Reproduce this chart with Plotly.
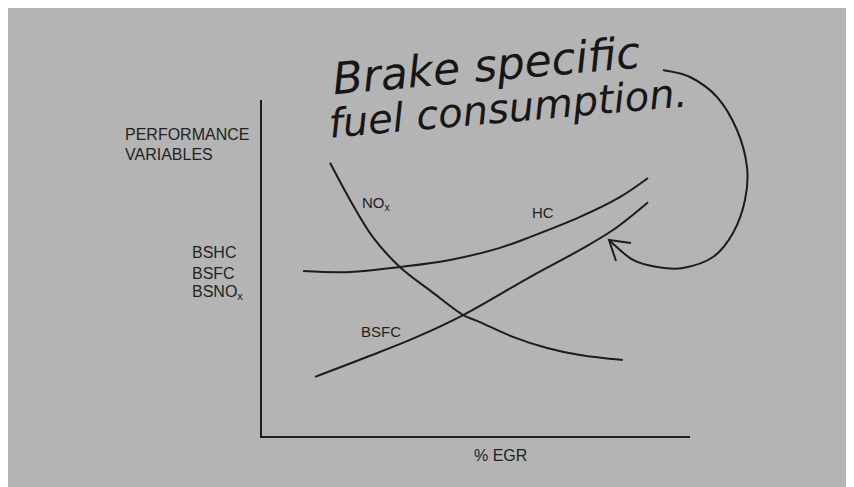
import plotly.graph_objects as go

# ---- data (arbitrary 0-100 units) ----
egr_nox = [15.9, 20.6, 25.9, 32.2, 40.0, 47.0, 50.9, 58.6, 66.6, 74.3, 84.3]
nox = [81.3, 70.2, 59.2, 50.3, 42.6, 36.0, 33.9, 29.5, 26.2, 24.1, 22.6]
egr_hc = [9.6, 20.6, 32.2, 43.9, 55.6, 62.6, 74.3, 83.6, 90.2]
hc = [49.1, 48.8, 50.3, 52.4, 56.0, 59.2, 65.2, 71.1, 76.8]
egr_bsfc = [12.4, 24.5, 36.2, 47.0, 62.6, 74.3, 82.0, 90.2]
bsfc = [17.6, 23.5, 29.5, 36.0, 47.3, 55.4, 61.3, 69.6]

curve_labels = ["NO<sub>x</sub>", "HC", "BSFC"]
y_title_lines = ["PERFORMANCE", "VARIABLES"]
y_vars = ["BSHC", "BSFC", "BSNO<sub>x</sub>"]
x_title = "% EGR"
note_lines = ["Brake specific", "fuel consumption."]

# ---- layout geometry (page pixels; the page adds an 8px body margin) ----
W, H = 854, 487
OFF = 8
L_PAGE, T_PAGE = 262, 100          # plot-area top-left on the page
PW, PH = 428, 336                  # plot-area size
L, T = L_PAGE - OFF, T_PAGE - OFF
R, B = W - L - PW, H - T - PH

def px2paper(px, py):
    return (px - L_PAGE) / PW, 1 - (py - T_PAGE) / PH

INK = "#1c1c1c"
BG = "#b4b4b4"

fig = go.Figure()
for xs, ys in [(egr_nox, nox), (egr_hc, hc), (egr_bsfc, bsfc)]:
    fig.add_trace(go.Scatter(x=xs, y=ys, mode="lines",
                             line=dict(color=INK, width=2, shape="spline", smoothing=1.0),
                             hoverinfo="skip", showlegend=False))

annotations = []
lab_font = dict(family="Liberation Sans, Arial, sans-serif", size=15, color="#222")
# curve labels (data coords)
for text, (x, y) in zip(curve_labels, [(26.8, 69.3), (65.7, 66.4), (27.8, 31.0)]):
    annotations.append(dict(x=x, y=y, xref="x", yref="y", text=text, showarrow=False,
                            font=lab_font, xanchor="center", yanchor="middle"))

# y-axis title lines
for text, py in zip(y_title_lines, [135, 154]):
    xp, yp = px2paper(123, py)
    annotations.append(dict(x=xp, y=yp, xref="paper", yref="paper", text=text,
                            showarrow=False, font=dict(lab_font, size=16),
                            xanchor="left", yanchor="middle"))
for text, py in zip(y_vars, [253, 273, 292]):
    xp, yp = px2paper(190, py)
    annotations.append(dict(x=xp, y=yp, xref="paper", yref="paper", text=text,
                            showarrow=False, font=dict(lab_font, size=16),
                            xanchor="left", yanchor="middle"))
xp, yp = px2paper(500, 455)
annotations.append(dict(x=xp, y=yp, xref="paper", yref="paper", text=x_title,
                        showarrow=False, font=dict(lab_font, size=16),
                        xanchor="center", yanchor="middle"))

# handwritten note
hand_font = dict(family="DejaVu Sans, sans-serif", color="#161616", style="italic")
for text, (cx, cy), size in zip(note_lines, [(486, 66), (508, 108)], [44, 40]):
    xp, yp = px2paper(cx, cy)
    annotations.append(dict(x=xp, y=yp, xref="paper", yref="paper", text=text,
                            showarrow=False, textangle=-5,
                            font=dict(hand_font, size=size),
                            xanchor="center", yanchor="middle"))

# curved arrow from the note to the BSFC curve (decoration, pixel geometry)
arrow_px = [(663, 70), (690, 77), (717, 97), (737, 130), (747, 167), (745, 200),
            (733, 233), (713, 257), (683, 268), (657, 267), (633, 260), (610, 241)]
pts = [px2paper(*p) for p in arrow_px]

def catmull(points):
    d = "M %.5f,%.5f" % points[0]
    for i in range(len(points) - 1):
        p0 = points[i - 1] if i > 0 else points[i]
        p1 = points[i]
        p2 = points[i + 1]
        p3 = points[i + 2] if i + 2 < len(points) else points[i + 1]
        c1 = (p1[0] + (p2[0] - p0[0]) / 6, p1[1] + (p2[1] - p0[1]) / 6)
        c2 = (p2[0] - (p3[0] - p1[0]) / 6, p2[1] - (p3[1] - p1[1]) / 6)
        d += " C %.5f,%.5f %.5f,%.5f %.5f,%.5f" % (c1 + c2 + p2)
    return d

head = [px2paper(631, 243), px2paper(609, 240), px2paper(616, 261)]
head_path = "M %.5f,%.5f L %.5f,%.5f L %.5f,%.5f" % (head[0] + head[1] + head[2])

shapes = [
    dict(type="path", xref="paper", yref="paper", path=catmull(pts),
         line=dict(color=INK, width=2)),
    dict(type="path", xref="paper", yref="paper", path=head_path,
         line=dict(color=INK, width=2)),
]

axis_common = dict(showgrid=False, zeroline=False, showticklabels=False, ticks="",
                   showline=True, linecolor=INK, linewidth=2, fixedrange=True)
fig.update_layout(
    width=W, height=H, autosize=False,
    margin=dict(l=L, r=R, t=T, b=B, pad=0),
    paper_bgcolor=BG, plot_bgcolor=BG,
    xaxis=dict(range=[0, 100], **axis_common),
    yaxis=dict(range=[0, 100], **axis_common),
    annotations=annotations, shapes=shapes, showlegend=False,
)
fig.write_html("out.html")
